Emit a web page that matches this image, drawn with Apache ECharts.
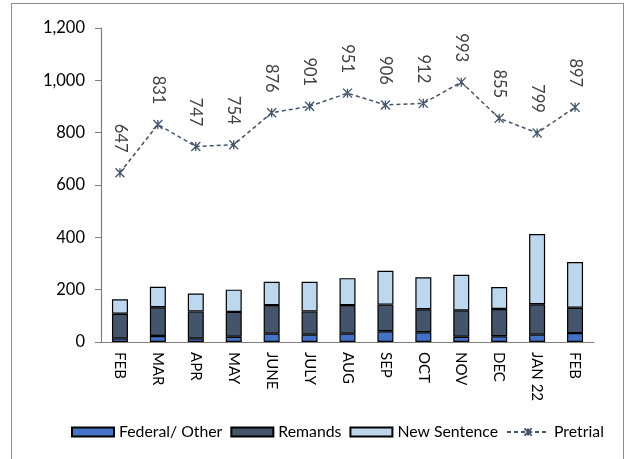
<!DOCTYPE html>
<html>
<head>
<meta charset="utf-8">
<script src="https://cdn.jsdelivr.net/npm/echarts@6/dist/echarts.min.js"></script>
<style>
  html, body { margin: 0; padding: 0; background: #fff; }
  #wrap { position: relative; width: 626px; height: 459px; overflow: hidden; }
  #chart { width: 626px; height: 459px; }
  #frame { position: absolute; left: 11px; top: 3px; width: 611px; height: 470px;
           border: 1.5px solid #8c8c8c; pointer-events: none; }
</style>
</head>
<body>
<div id="wrap">
  <div id="chart"></div>
  <div id="frame"></div>
</div>
<script>
// months
var months = ['FEB', 'MAR', 'APR', 'MAY', 'JUNE', 'JULY', 'AUG', 'SEP', 'OCT', 'NOV', 'DEC', 'JAN 22', 'FEB']
// stacked bars
var federal = [14, 23, 14, 20, 32, 28, 32, 41, 37, 20, 22, 28, 34]
var remands = [94, 110, 103, 95, 109, 89, 109, 102, 88, 101, 104, 116, 97]
var newSentence = [55, 78, 68, 85, 89, 113, 103, 129, 122, 136, 84, 269, 175]
// line
var pretrial = [647, 831, 747, 754, 876, 901, 951, 906, 912, 993, 855, 799, 897]
var yTicks = [0, 200, 400, 600, 800, 1000, 1200]

var FONT = 'Lato, "Liberation Sans", sans-serif'
var chart = echarts.init(document.getElementById('chart'))

function barSeries(name, data, color) {
  return {
    name: name,
    type: 'bar',
    stack: 'total',
    barWidth: 16,
    data: data,
    itemStyle: { color: color, borderColor: '#000', borderWidth: 1.2 },
    animation: false
  }
}

chart.setOption({
  animation: false,
  textStyle: { fontFamily: FONT },
  grid: { left: 101, right: 32, top: 28, bottom: 117 },
  legend: {
    bottom: 14,
    left: 66,
    itemWidth: 42,
    itemHeight: 9,
    itemGap: 8,
    textStyle: { fontSize: 15.8, color: '#000', fontFamily: FONT },
    data: [
      { name: 'Federal/ Other', icon: 'rect' },
      { name: 'Remands', icon: 'rect' },
      { name: 'New Sentence', icon: 'rect' },
      { name: 'Pretrial' }
    ]
  },
  xAxis: {
    type: 'category',
    data: months,
    axisLine: { lineStyle: { color: '#7f7f7f', width: 1.2 } },
    axisTick: { show: false },
    axisLabel: { rotate: -90, fontSize: 15, color: '#000', margin: 10, fontFamily: FONT }
  },
  yAxis: {
    type: 'value',
    min: yTicks[0],
    max: yTicks[yTicks.length - 1],
    interval: 200,
    splitLine: { show: false },
    axisLine: { show: true, lineStyle: { color: '#7f7f7f', width: 1.2 } },
    axisTick: { show: true, inside: false, length: 6, lineStyle: { color: '#7f7f7f' } },
    axisLabel: {
      fontSize: 16.5, color: '#000', margin: 16, fontFamily: FONT,
      formatter: function (v) { return v.toLocaleString('en-US') }
    }
  },
  series: [
    barSeries('Federal/ Other', federal, '#4472c4'),
    barSeries('Remands', remands, '#44546a'),
    barSeries('New Sentence', newSentence, '#bdd7ee'),
    {
      name: 'Pretrial',
      type: 'line',
      data: pretrial,
      symbol: 'path://M0,0L10,10M10,0L0,10M5,0L5,10',
      symbolSize: 9,
      lineStyle: { color: '#44546a', width: 1.5, type: [4, 3] },
      itemStyle: { color: '#44546a', borderColor: '#44546a', borderWidth: 1.3 },
      label: {
        show: true,
        position: 'top',
        rotate: -90,
        align: 'right',
        verticalAlign: 'middle',
        distance: 15,
        fontSize: 16.5,
        color: '#404040',
        fontFamily: FONT
      }
    }
  ]
})
</script>
</body>
</html>
